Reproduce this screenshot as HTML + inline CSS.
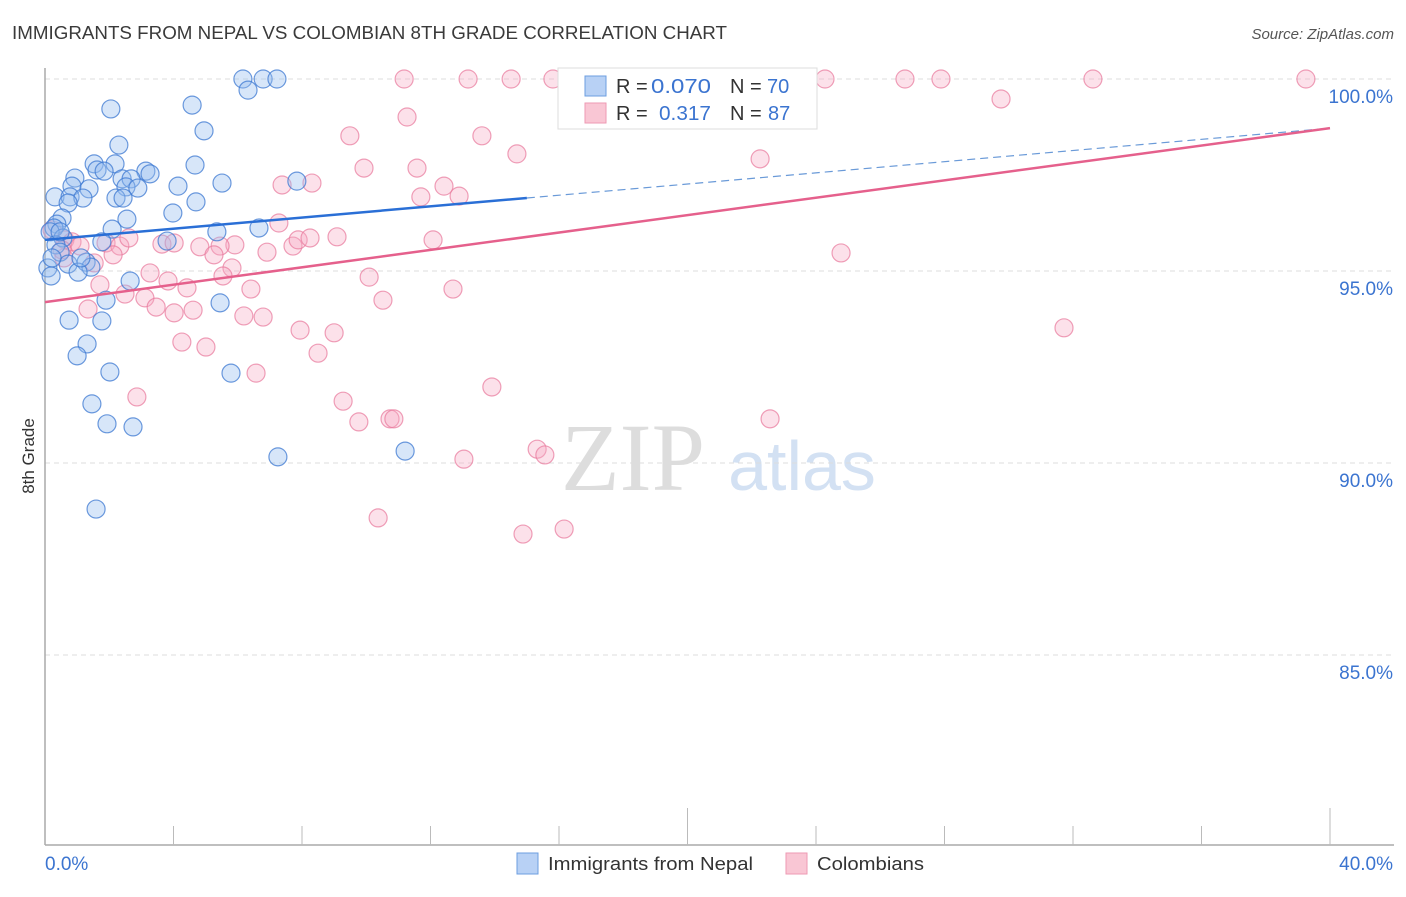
<!DOCTYPE html>
<html><head><meta charset="utf-8">
<style>
body{margin:0;background:#fff;font-family:"Liberation Sans",sans-serif;}
svg text{font-family:"Liberation Sans",sans-serif;}
</style></head>
<body>
<svg id="chart" width="1406" height="892" xmlns="http://www.w3.org/2000/svg">
<text x="12" y="39" font-size="18" fill="#3a3a3a" textLength="715" lengthAdjust="spacingAndGlyphs">IMMIGRANTS FROM NEPAL VS COLOMBIAN 8TH GRADE CORRELATION CHART</text>
<text x="1394" y="39" font-size="15" fill="#555" font-style="italic" text-anchor="end">Source: ZipAtlas.com</text>
<text x="34" y="456" font-size="17" fill="#333" text-anchor="middle" transform="rotate(-90 34 456)">8th Grade</text>
<g>
<text x="633" y="490" font-size="96" fill="#ddd" text-anchor="middle" style="font-family:'Liberation Serif',serif">ZIP</text>
<text x="802" y="490" font-size="70" fill="#d3e1f3" text-anchor="middle">atlas</text>
</g>
<g id="grid"></g>
<g id="axes"></g>
<g id="marks"></g>
<g>
<rect x="558" y="68" width="259" height="61" fill="#fff" stroke="#ddd"/>
<rect x="585" y="76" width="21" height="20" fill="#b8d1f5" stroke="#6c9ee0"/>
<rect x="585" y="103" width="21" height="20" fill="#f9c6d4" stroke="#ee9ab3"/>
<text x="616" y="93" font-size="20" fill="#333">R = </text><text x="651" y="93" font-size="20" fill="#3b74d0" textLength="60" lengthAdjust="spacingAndGlyphs">0.070</text>
<text x="730" y="93" font-size="20" fill="#333">N = </text><text x="767" y="93" font-size="20" fill="#3b74d0">70</text>
<text x="616" y="120" font-size="20" fill="#333">R = </text><text x="659" y="120" font-size="20" fill="#3b74d0" textLength="52" lengthAdjust="spacingAndGlyphs">0.317</text>
<text x="730" y="120" font-size="20" fill="#333">N = </text><text x="768" y="120" font-size="20" fill="#3b74d0">87</text>
</g>
<g>
<rect x="517" y="853" width="21" height="21" fill="#b8d1f5" stroke="#6c9ee0"/>
<text x="548" y="870" font-size="18" fill="#333" textLength="205" lengthAdjust="spacingAndGlyphs">Immigrants from Nepal</text>
<rect x="786" y="853" width="21" height="21" fill="#f9c6d4" stroke="#ee9ab3"/>
<text x="817" y="870" font-size="18" fill="#333" textLength="107" lengthAdjust="spacingAndGlyphs">Colombians</text>
</g>
</svg>
<script>
const blueX=[6.16,6.79,7.22,6.32,2.05,4.58,4.95,2.30,1.53,2.18,4.67,1.62,1.84,3.14,3.27,0.93,2.40,2.68,5.51,4.14,0.84,1.37,2.52,2.89,7.84,0.31,0.78,1.18,2.21,2.43,4.70,0.72,3.98,2.55,0.53,0.37,0.28,2.09,0.16,5.35,6.66,3.80,1.77,0.56,0.34,0.47,1.28,0.72,1.43,0.09,1.03,0.19,2.65,1.90,5.45,0.75,1.77,1.31,1.00,2.02,5.79,1.46,1.93,2.74,7.25,11.21,1.59,0.22,1.12,0.47];
const blueY=[100,100,100,99.71,99.22,99.32,98.65,98.28,97.79,97.79,97.76,97.63,97.60,97.60,97.53,97.42,97.40,97.40,97.29,97.21,97.21,97.14,97.19,97.16,97.34,96.93,96.93,96.90,96.90,96.90,96.80,96.77,96.51,96.35,96.38,96.22,96.12,96.09,96.02,96.02,96.12,95.78,95.76,95.86,95.68,95.49,95.23,95.18,95.10,95.08,94.97,94.87,94.74,94.24,94.17,93.72,93.70,93.10,92.79,92.37,92.34,91.54,91.02,90.94,90.16,90.31,88.80,95.34,95.34,96.02];
const pinkX=[11.18,13.17,14.51,15.81,19.46,24.28,26.77,27.89,32.62,39.25,29.76,11.27,9.49,13.60,14.69,22.26,9.93,11.58,7.38,8.31,12.42,11.70,12.89,7.28,0.22,0.62,0.84,1.09,1.90,2.33,2.61,3.64,4.02,4.82,5.91,5.45,6.91,7.72,7.88,8.25,9.09,12.08,5.26,0.59,1.53,2.12,5.82,3.27,3.83,5.54,6.41,10.09,4.42,12.70,2.49,1.71,3.11,3.46,4.02,4.61,6.19,6.79,10.52,1.34,7.94,9.00,4.26,5.01,8.50,31.72,24.78,13.91,9.28,2.86,9.77,10.74,10.86,22.57,13.04,15.32,15.56,10.37,14.88,16.16,6.57,0.53];
const pinkY=[100,100,100,100,100,100,100,100,100,100,99.48,99.01,98.52,98.52,98.05,97.92,97.68,97.68,97.24,97.29,97.21,96.93,96.95,96.25,96.07,95.81,95.76,95.65,95.73,95.65,95.86,95.70,95.73,95.63,95.68,95.65,95.49,95.65,95.81,95.86,95.89,95.81,95.42,95.34,95.21,95.42,95.08,94.95,94.74,94.87,94.53,94.84,94.56,94.53,94.40,94.64,94.30,94.06,93.91,93.98,93.83,93.80,94.24,94.01,93.46,93.39,93.15,93.02,92.86,93.52,95.47,91.98,91.61,91.72,91.07,91.15,91.15,91.15,90.10,90.36,90.21,88.57,88.15,88.28,92.34,95.55];
const yTicks=[100,95,90,85];
const yTickLabels=["100.0%","95.0%","90.0%","85.0%"];
const xTicks=[0,4,8,12,16,20,24,28,32,36,40];
const xTickLabels=["0.0%","40.0%"];
const blueTrend=[95.81,98.72];
const pinkTrend=[94.19,98.72];
const blueSolidEnd=15.0;

const NS="http://www.w3.org/2000/svg";
const X=v=>45+v*32.125;
const Y=v=>79+(100-v)*38.4;
function mk(tag,attrs,parent){const e=document.createElementNS(NS,tag);for(const k in attrs)e.setAttribute(k,attrs[k]);parent.appendChild(e);return e;}
const grid=document.getElementById('grid'),axes=document.getElementById('axes'),marks=document.getElementById('marks');
yTicks.forEach((t,i)=>{
 const l=mk('line',{x1:45,x2:1394,y1:Y(t),y2:Y(t),stroke:'#ddd','stroke-dasharray':'5,4'},grid);
 
 
 const tx=mk('text',{x:1393,y:Y(t)+24,'font-size':19,fill:'#3b74d0','text-anchor':'end'},axes);
 tx.textContent=yTickLabels[i];
 
 
});
let a=mk('line',{x1:45,x2:45,y1:68,y2:845,stroke:'#aaa','stroke-width':1.5},axes);


a=mk('line',{x1:45,x2:1394,y1:845,y2:845,stroke:'#aaa','stroke-width':1.5},axes);


xTicks.forEach(t=>{
 if(t===0)return;
 const long=(t%20===0);
 const l=mk('line',{x1:X(t),x2:X(t),y1:long?808:826,y2:845,stroke:'#bbb'},axes);
 
 
});
let t1=mk('text',{x:45,y:870,'font-size':19,fill:'#3b74d0'},axes);t1.textContent=xTickLabels[0];


let t2=mk('text',{x:1393,y:870,'font-size':19,fill:'#3b74d0','text-anchor':'end'},axes);t2.textContent=xTickLabels[1];



pinkX.forEach((x,i)=>{
 const c=mk('circle',{cx:X(x),cy:Y(pinkY[i]),r:9,fill:'rgba(246,170,194,0.35)',stroke:'rgba(232,120,155,0.7)','stroke-width':1.2},marks);
 
 
});
blueX.forEach((x,i)=>{
 const c=mk('circle',{cx:X(x),cy:Y(blueY[i]),r:9,fill:'rgba(150,190,240,0.38)',stroke:'rgba(60,120,210,0.75)','stroke-width':1.2},marks);
 
 
});
const bAt=x=>blueTrend[0]+(blueTrend[1]-blueTrend[0])*x/40;
let ln=mk('line',{x1:X(0),y1:Y(bAt(0)),x2:X(blueSolidEnd),y2:Y(bAt(blueSolidEnd)),stroke:'#2a6fd6','stroke-width':2.5},marks);


ln=mk('line',{x1:X(blueSolidEnd),y1:Y(bAt(blueSolidEnd)),x2:X(40),y2:Y(bAt(40)),stroke:'#6a9ad8','stroke-width':1.2,'stroke-dasharray':'8,5'},marks);


ln=mk('line',{x1:X(0),y1:Y(pinkTrend[0]),x2:X(40),y2:Y(pinkTrend[1]),stroke:'#e5608c','stroke-width':2.5},marks);


</script>
</body></html>
